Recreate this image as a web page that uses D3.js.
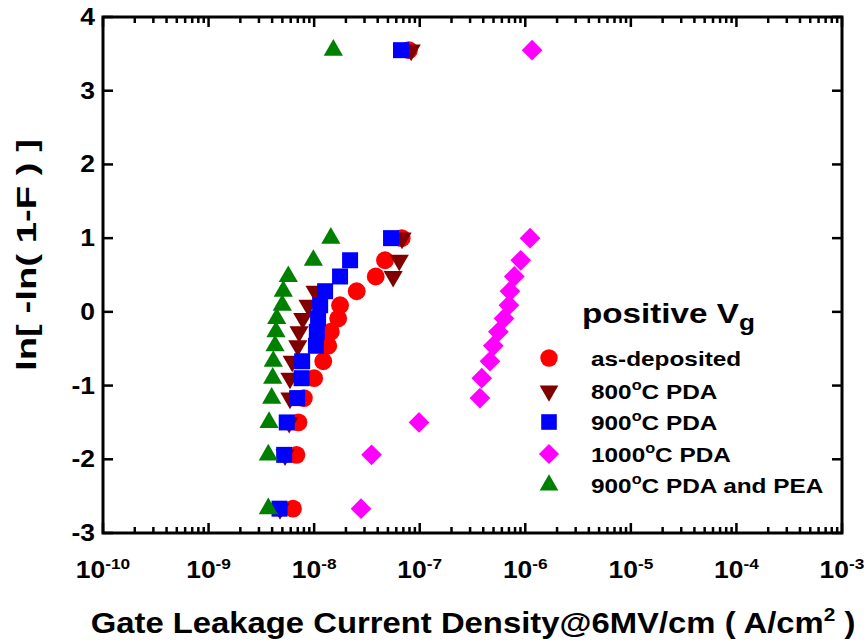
<!DOCTYPE html>
<html><head><meta charset="utf-8">
<script src="https://cdn.jsdelivr.net/npm/d3@7"></script>
<style>
body{margin:0;background:#fff;}
text{font-family:"Liberation Sans",Arial,sans-serif;font-weight:bold;fill:#000;}
</style></head>
<body><svg id="chart" width="867" height="644"></svg>
<script>
// Weibull plotting positions ln[-ln(1-F)]
const yLevels = [-2.67, -1.94, -1.50, -1.17, -0.90, -0.67, -0.46, -0.27, -0.09, 0.09, 0.28, 0.48, 0.70, 1.00, 3.55];
// Gate leakage current density (A/cm^2) for each series, same order as yLevels
const asDeposited = [6.3e-9, 6.8e-9, 7.1e-9, 8.0e-9, 1.0e-8, 1.22e-8, 1.36e-8, 1.44e-8, 1.69e-8, 1.76e-8, 2.53e-8, 3.83e-8, 4.69e-8, 6.75e-8, 7.9e-8];
const pda800 = [4.75e-9, 5.3e-9, 5.8e-9, 5.9e-9, 5.9e-9, 6.2e-9, 7.0e-9, 7.2e-9, 7.8e-9, 8.75e-9, 1.02e-8, 5.6e-8, 6.4e-8, 6.8e-8, 8.3e-8];
const pda900 = [4.7e-9, 5.2e-9, 5.5e-9, 6.9e-9, 7.6e-9, 7.7e-9, 1.04e-8, 1.06e-8, 1.09e-8, 1.14e-8, 1.27e-8, 1.76e-8, 2.19e-8, 5.35e-8, 6.65e-8];
const pda1000 = [2.78e-8, 3.5e-8, 9.85e-8, 3.72e-7, 3.87e-7, 4.63e-7, 4.98e-7, 5.56e-7, 6.29e-7, 7.0e-7, 7.16e-7, 7.87e-7, 9.06e-7, 1.11e-6, 1.16e-6];
const pda900pea = [3.68e-9, 3.68e-9, 3.74e-9, 3.96e-9, 4.05e-9, 4.1e-9, 4.26e-9, 4.35e-9, 4.42e-9, 4.99e-9, 5.1e-9, 5.69e-9, 9.83e-9, 1.44e-8, 1.52e-8];
const seriesNames = ["as-deposited", "800\u00B0C PDA", "900\u00B0C PDA", "1000\u00B0C PDA", "900\u00B0C PDA and PEA"];
const seriesValues = [asDeposited, pda800, pda900, pda1000, pda900pea];
const xTickExponents = [-10, -9, -8, -7, -6, -5, -4, -3];
const yTicks = [-3, -2, -1, 0, 1, 2, 3, 4];

const colors = ["#ff0000", "#800000", "#0000ff", "#ff00ff", "#008000"];
const shapes = [
  {type: d3.symbolCircle, size: 250, rot: 0},
  {type: d3.symbolTriangle, size: 160, rot: 180},
  {type: d3.symbolSquare, size: 256, rot: 0},
  {type: d3.symbolSquare, size: 215, rot: 45},
  {type: d3.symbolTriangle, size: 160, rot: 0}
];

const svg = d3.select("#chart");
const L = 103, R = 842, T = 17, B = 533;
const x = d3.scaleLog().domain([1e-10, 1e-3]).range([L, R]);
const y = d3.scaleLinear().domain([-3, 4]).range([B, T]);
const K = 1.15; // horizontal stretch of the reference's wide bold font

function wtext(parent, px, py, k, size, anchor) {
  return parent.append("text")
    .attr("transform", `translate(${px},${py}) scale(${k},1)`)
    .attr("text-anchor", anchor || "start").attr("font-size", size);
}
function fitText(t, px, py, target, rot) {
  const w = t.node().getComputedTextLength();
  const k = target / w;
  t.attr("transform", `translate(${px},${py}) ${rot ? "rotate(" + rot + ")" : ""} scale(${k},1)`);
}

const majorX = xTickExponents.map(e => Math.pow(10, e));
const minorX = [];
for (let e = -10; e < -3; e++) for (let m = 2; m <= 9; m++) minorX.push(m * Math.pow(10, e));

const g = svg.append("g");
function xTicks(yPos, dir) {
  g.selectAll(null).data(majorX).enter().append("line")
    .attr("x1", d => x(d)).attr("x2", d => x(d))
    .attr("y1", yPos).attr("y2", yPos + dir * 10)
    .attr("stroke", "#000").attr("stroke-width", 2.5);
  g.selectAll(null).data(minorX).enter().append("line")
    .attr("x1", d => x(d)).attr("x2", d => x(d))
    .attr("y1", yPos).attr("y2", yPos + dir * 6)
    .attr("stroke", "#000").attr("stroke-width", 2.5);
}
xTicks(B, -1); xTicks(T, 1);
function yTickLines(xPos, dir) {
  g.selectAll(null).data(yTicks).enter().append("line")
    .attr("x1", xPos).attr("x2", xPos + dir * 10)
    .attr("y1", d => y(d)).attr("y2", d => y(d))
    .attr("stroke", "#000").attr("stroke-width", 2.5);
}
yTickLines(L, 1); yTickLines(R, -1);

g.append("rect").attr("x", L).attr("y", T).attr("width", R - L).attr("height", B - T)
  .attr("fill", "none").attr("stroke", "#000").attr("stroke-width", 3);

yTicks.forEach(d => {
  wtext(g, L - 8, y(d) + 8, K, 23, "end").text(d);
});
xTickExponents.forEach(d => {
  const t = wtext(g, x(Math.pow(10, d)), 578, K, 23, "middle");
  t.append("tspan").text("10");
  t.append("tspan").attr("font-size", 15).attr("dy", -9).text(d);
});

const xt = svg.append("text").attr("text-anchor", "middle").attr("font-size", 30);
xt.append("tspan").text("Gate Leakage Current Density@6MV/cm ( A/cm");
xt.append("tspan").attr("font-size", 19).attr("dy", -12).text("2");
xt.append("tspan").attr("dy", 12).text(" )");
fitText(xt, 473, 633, 765);

const yt = svg.append("text").attr("text-anchor", "middle").attr("font-size", 28).text("ln[ -ln( 1-F ) ]");
fitText(yt, 36, 255, 232, -90);

const sym = d3.symbol();
seriesValues.forEach((vals, si) => {
  const s = shapes[si];
  g.selectAll(null).data(vals.map((v, i) => ({x: v, y: yLevels[i]}))).enter()
    .append("path")
    .attr("d", sym.type(s.type).size(s.size)())
    .attr("transform", d => `translate(${x(d.x)},${y(d.y)}) rotate(${s.rot})`)
    .attr("fill", colors[si]);
});

const lt = svg.append("text").attr("font-size", 28);
lt.append("tspan").text("positive V");
lt.append("tspan").attr("font-size", 22).attr("dy", 7).text("g");
fitText(lt, 582, 323, 173);

const legY = [358, 391, 422, 454, 485];
seriesNames.forEach((name, si) => {
  const s = shapes[si];
  svg.append("path")
    .attr("d", d3.symbol().type(s.type).size(s.size * 0.95)())
    .attr("transform", `translate(549,${legY[si]}) rotate(${s.rot})`)
    .attr("fill", colors[si]);
  const t = wtext(svg, 591, legY[si] + 8, 1.16, 21, "start");
  const parts = name.split("\u00B0");
  if (parts.length === 2) {
    t.append("tspan").text(parts[0]);
    t.append("tspan").attr("font-size", 14).attr("dy", -9).text("o");
    t.append("tspan").attr("dy", 9).text(parts[1]);
  } else t.text(name);
});
</script></body></html>
